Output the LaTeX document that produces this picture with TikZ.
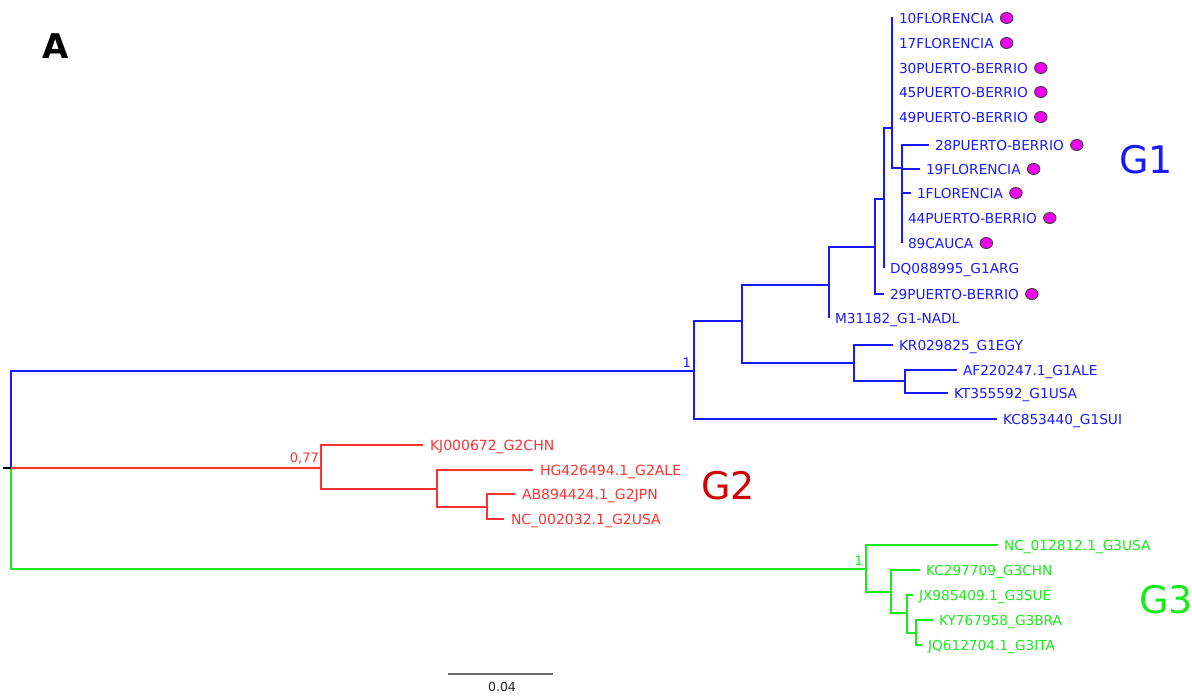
\documentclass[tikz,border=0pt]{standalone}
\usepackage{fontspec}
\usetikzlibrary{shapes.geometric}
\setmainfont{DejaVu Sans}
\definecolor{tblue}{RGB}{25,25,255}
\definecolor{tred}{RGB}{255,50,50}
\definecolor{tgreen}{RGB}{25,235,25}
\definecolor{dred}{RGB}{210,0,0}
\definecolor{dotc}{RGB}{240,0,240}
\begin{document}
\begin{tikzpicture}[x=1pt,y=-1pt,
  br/.style={line width=2.4pt},
  lbl/.style={font=\fontsize{13.7}{14}\selectfont, inner sep=0pt, outer xsep=6pt, outer ysep=0pt, text height=10pt, text depth=0pt, anchor=west},
  rlbl/.style={font=\fontsize{14}{15}\selectfont, inner sep=0pt, outer xsep=7pt, outer ysep=0pt, text height=10.2pt, text depth=0pt, anchor=west, text=tred},
  bl/.style={lbl, text=tblue},
  gl/.style={lbl, text=tgreen},
  dot/.style={ellipse, draw=black!75, line width=0.9pt, fill=dotc, minimum width=12.5pt, minimum height=11pt, inner sep=0pt},
  boot/.style={font=\fontsize{13}{14}\selectfont, inner sep=1pt, anchor=south east},
  big/.style={font=\fontsize{38}{40}\selectfont, inner sep=0pt}
]
\useasboundingbox (0,0) rectangle (1192,697);

% title
\node[font=\fontsize{34}{36}\selectfont\bfseries] (title) at (56,46) {A};

% internal coordinates
\coordinate (root) at (11,468);
\coordinate (b1) at (694,371);
\coordinate (b2) at (742,321);
\coordinate (b3) at (829,285);
\coordinate (b4) at (854,363);
\coordinate (b5) at (905,381);
\coordinate (b6) at (875,247);
\coordinate (b7) at (884,199);
\coordinate (b8) at (892,128);
\coordinate (b9) at (902,168);
\coordinate (r1) at (321,468);
\coordinate (r2) at (437,489);
\coordinate (r3) at (487,507);
\coordinate (g1) at (866,569);
\coordinate (g2) at (891,592);
\coordinate (g3) at (907,613);
\coordinate (g4) at (916,633);
\coordinate (tick) at (3,468);

% blue leaves
\node[bl] (l10) at (893,18) {10FLORENCIA};
\node[bl] (l17) at (893,43) {17FLORENCIA};
\node[bl] (l30) at (893,68) {30PUERTO-BERRIO};
\node[bl] (l45) at (893,92) {45PUERTO-BERRIO};
\node[bl] (l49) at (893,117) {49PUERTO-BERRIO};
\node[bl] (l28) at (929,145) {28PUERTO-BERRIO};
\node[bl] (l19) at (920,169) {19FLORENCIA};
\node[bl] (l1) at (911,193) {1FLORENCIA};
\node[bl] (l44) at (902,218) {44PUERTO-BERRIO};
\node[bl] (l89) at (902,243) {89CAUCA};
\node[bl] (ldq) at (884,268) {DQ088995\_G1ARG};
\node[bl] (l29) at (884,294) {29PUERTO-BERRIO};
\node[bl] (lm3) at (829,318) {M31182\_G1-NADL};
\node[bl] (lkr) at (893,345) {KR029825\_G1EGY};
\node[bl] (laf) at (957,370) {AF220247.1\_G1ALE};
\node[bl] (lkt) at (948,393) {KT355592\_G1USA};
\node[bl] (lkc) at (997,419) {KC853440\_G1SUI};

% red leaves
\node[rlbl] (lkj) at (423,445) {KJ000672\_G2CHN};
\node[rlbl] (lhg) at (533,470) {HG426494.1\_G2ALE};
\node[rlbl] (lab) at (515,494) {AB894424.1\_G2JPN};
\node[rlbl] (lnc2) at (504,519) {NC\_002032.1\_G2USA};

% green leaves
\node[gl] (lnc3) at (998,545) {NC\_012812.1\_G3USA};
\node[gl] (lkc2) at (920,570) {KC297709\_G3CHN};
\node[gl] (ljx) at (913,595) {JX985409.1\_G3SUE};
\node[gl] (lky) at (933,620) {KY767958\_G3BRA};
\node[gl] (ljq) at (922,645) {JQ612704.1\_G3ITA};

% dots
\foreach \n in {l10,l17,l30,l45,l49,l28,l19,l1,l44,l89,l29}
  \node[dot] (d\n) at ([xshift=7pt]\n.east) {};

% blue branches
\begin{scope}[br, draw=tblue]
\draw (root) |- (b1);
\draw (b1) |- (b2);
\draw (b1) |- (lkc.west);
\draw (b2) |- (b3);
\draw (b2) |- (b4);
\draw (b4) |- (lkr.west);
\draw (b4) |- (b5);
\draw (b5) |- (laf.west);
\draw (b5) |- (lkt.west);
\draw (b3) |- (b6);
\draw (b3) |- (lm3.west);
\draw (b6) |- (b7);
\draw (b6) |- (l29.west);
\draw (b7) |- (b8);
\draw (b7) |- (ldq.west);
\draw (b8) |- (l10.west);
\draw (b8) |- (l17.west);
\draw (b8) |- (l30.west);
\draw (b8) |- (l45.west);
\draw (b8) |- (l49.west);
\draw (b8) |- (b9);
\draw (b9) |- (l28.west);
\draw (b9) |- (l19.west);
\draw (b9) |- (l1.west);
\draw (b9) |- (l44.west);
\draw (b9) |- (l89.west);
\end{scope}

% red branches
\begin{scope}[br, draw=tred]
\draw (root) -- (r1);
\draw (r1) |- (lkj.west);
\draw (r1) |- (r2);
\draw (r2) |- (lhg.west);
\draw (r2) |- (r3);
\draw (r3) |- (lab.west);
\draw (r3) |- (lnc2.west);
\end{scope}

% green branches
\begin{scope}[br, draw=tgreen]
\draw (root) |- (g1);
\draw (g1) |- (lnc3.west);
\draw (g1) |- (g2);
\draw (g2) |- (lkc2.west);
\draw (g2) |- (g3);
\draw (g3) |- (ljx.west);
\draw (g3) |- (g4);
\draw (g4) |- (lky.west);
\draw (g4) |- (ljq.west);
\end{scope}

\draw[br, black] (tick) -- (root);

% support values
\node[boot, text=tblue] (s1) at (692,369) {1};
\node[boot, text=tred] (s2) at (320,465) {0,77};
\node[boot, text=tgreen] (s3) at (864,567) {1};

% group labels
\node[big, text=tblue] (G1) at (1146,160) {G1};
\node[big, text=dred] (G2) at (728,486) {G2};
\node[big, text=tgreen] (G3) at (1166,600) {G3};

% scale bar
\coordinate (sbL) at (448,674);
\coordinate (sbR) at (553,674);
\draw[line width=2pt, draw=black!58] (sbL) -- (sbR);
\node[font=\fontsize{12.5}{13}\selectfont, text=black!85] (sbt) at (502,687) {0.04};
\end{tikzpicture}
\end{document}
